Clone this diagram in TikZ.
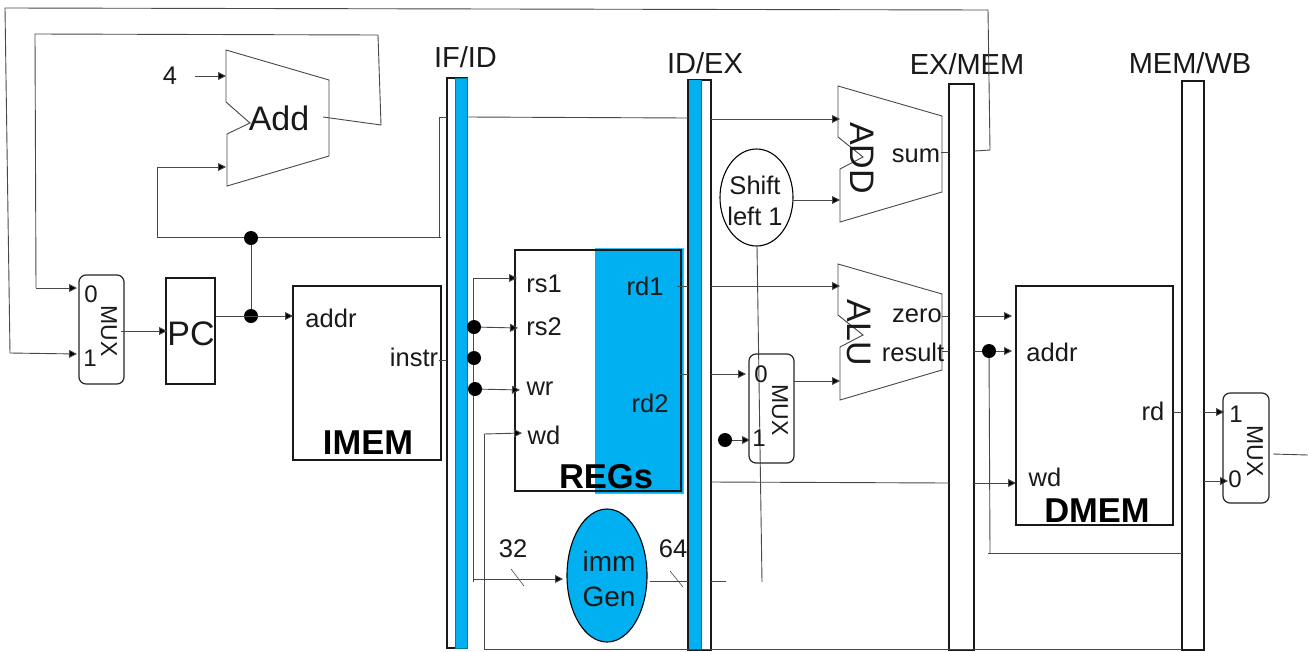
\documentclass[tikz,border=0pt]{standalone}
\usepackage{fontspec}
\setmainfont{Liberation Sans}
\usetikzlibrary{arrows.meta,shapes.geometric}
\definecolor{cpublue}{HTML}{00B0F0}
\definecolor{wirec}{HTML}{484848}
\newcommand{\fs}[1]{\fontsize{#1}{#1}\selectfont}
\tikzset{
  wire/.style={draw=wirec,line width=0.9pt},
  awire/.style={wire,-{Triangle[length=8pt,width=8pt,fill=black]}},
  boxn/.style={draw=black!90,line width=1.1pt,rectangle,inner sep=0pt,outer sep=0pt},
  muxn/.style={draw=black!85,line width=1.2pt,rectangle,rounded corners=7pt,inner sep=0pt,outer sep=0pt,minimum width=45pt,minimum height=109pt},
  pipe/.style={draw=black!90,line width=1.1pt,fill=white,rectangle,inner sep=0pt,outer sep=0pt},
  bluebar/.style={fill=cpublue,draw=cpublue!70!black,line width=0.6pt},
  dotn/.style={circle,fill=black,inner sep=0pt,minimum size=14pt},
  lab/.style={inner sep=0pt,font=\fs{25.5},text=black!90},
  pipelab/.style={inner sep=0pt,font=\fs{29},text=black!90},
  biglab/.style={inner sep=0pt,font=\fs{34.5}\bfseries,text=black},
  muxlab/.style={inner sep=0pt,font=\fs{23},rotate=-90,text=black!90},
  alulab/.style={inner sep=0pt,font=\fs{34},rotate=-90,text=black!90},
  trap/.style={draw=wirec,line width=0.9pt,line join=miter},
}
\begin{document}
\begin{tikzpicture}[x=1pt,y=-1pt]
\useasboundingbox (0,0) rectangle (1308,651);
\fill[white] (0,0) rectangle (1308,651);

% free-end and bend coordinates
\coordinate (t1) at (975,151); \coordinate (t2) at (990,150); \coordinate (t3) at (988,10);
\coordinate (t4) at (5,8); \coordinate (t5) at (10,353); \coordinate (t6) at (77,354);
\coordinate (l1) at (323,117); \coordinate (l2) at (381,125); \coordinate (l3) at (378,35);
\coordinate (l4) at (35,34); \coordinate (l5) at (36,288); \coordinate (l6) at (77,288);
\coordinate (four) at (195,76); \coordinate (addin1) at (226,76);
\coordinate (addin2) at (226,167); \coordinate (b1) at (157,167); \coordinate (b2) at (157,237);
\coordinate (b3) at (441,237); \coordinate (b4) at (439,237); \coordinate (b5) at (439,117);
\coordinate (b6) at (447,117); \coordinate (b7) at (467,117); \coordinate (b8) at (688,118);
\coordinate (b9) at (711,119); \coordinate (b10) at (840,119);

% pipeline bars
\node[pipe,minimum width=20pt,minimum height=570pt] (ifid) at (457,363) {};
\fill[cpublue] (455,78) rectangle (467,648);
\draw[cpublue!70!black,line width=0.6pt] (455,78) rectangle (467,648);
\node[pipe,minimum width=23pt,minimum height=570pt] (idex) at (699.5,365) {};
\fill[cpublue] (689,80) rectangle (701,650);
\draw[cpublue!70!black,line width=0.6pt] (701,80) -- (701,650);
\node[pipe,minimum width=25pt,minimum height=566pt] (exmem) at (961.5,367) {};
\node[pipe,minimum width=22pt,minimum height=569pt] (memwb) at (1193,365.5) {};

\node[pipelab] (ifidl) at (465.5,57) {IF/ID};
\node[pipelab] (idexl) at (705,63) {ID/EX};
\node[pipelab] (exmeml) at (967,64) {EX/MEM};
\node[pipelab] (memwbl) at (1190,63) {MEM/WB};

% fetch
\node[muxn] (mux1) at (101.5,329.5) {};
\node[muxlab] (mux1t) at (109,331) {MUX};
\node[lab,font=\fs{24}] (mux1a) at (91,294) {0};
\node[lab,font=\fs{24}] (mux1b) at (90,358) {1};
\node[boxn,minimum width=49pt,minimum height=106pt] (pc) at (190.5,331) {};
\node[inner sep=0pt,font=\fs{34},text=black!90] (pct) at (191,334) {PC};
\node[boxn,minimum width=148pt,minimum height=174pt] (imem) at (367,373) {};
\node[lab] (addrl) at (331,318) {addr};
\node[lab] (instrl) at (414,357) {instr};
\node[biglab] (imeml) at (368,443) {IMEM};

\draw[trap] (226,50) -- (329,80) -- (329,156) -- (227,186) -- (227,134) -- (250,123) -- (226,102) -- cycle;
\node[inner sep=0pt,font=\fs{34},text=black!90] (addt) at (279,118) {Add};
\node[lab] (fourl) at (170,76) {4};
\draw[awire] (four) -- (addin1);
\draw[wire] (l1) -- (l2) -- (l3) -- (l4) -- (l5);
\draw[awire] (l5) -- (l6);
\draw[wire] (t1) -- (t2) -- (t3) -- (t4) -- (t5);
\draw[awire] (t5) -- (t6);
\draw[wire] (b3) -- (b2) -- (b1);
\draw[awire] (b1) -- (addin2);
\draw[wire] (b4) -- (b5) -- (b6);

\node[dotn] (d1) at (251,238) {};
\node[dotn] (d2) at (251,316) {};
\draw[wire] (d1) -- (d2);
\coordinate (pcout) at (216,316); \coordinate (addrin) at (293,316);
\draw[awire] (pcout) -- (addrin);
\coordinate (muxout) at (121,331); \coordinate (pcin) at (167,331);
\draw[awire] (muxout) -- (pcin);
\coordinate (instro) at (439,360); \coordinate (instre) at (447,360);
\draw[wire] (instro) -- (instre);

% registers
\fill[cpublue] (595,248) rectangle (683,493);
\draw[cpublue!80!white,line width=0.8pt] (595,248) -- (683,248) -- (683,493) -- (595,493);
\node[boxn,minimum width=166pt,minimum height=241pt] (regs) at (598,370.5) {};
\node[lab] (rs1) at (544,284) {rs1};
\node[lab] (rs2) at (544,326.5) {rs2};
\node[lab] (wr) at (540,388.5) {wr};
\node[lab] (wd) at (544,435.5) {wd};
\node[lab] (rd1) at (645,286.5) {rd1};
\node[lab] (rd2) at (650,403.5) {rd2};
\node[biglab] (regsl) at (606,477) {REGs};

\coordinate (v1) at (473,278); \coordinate (v2) at (473,582);
\coordinate (rs1in) at (517,278);
\draw[wire] (v2) -- (v1);
\draw[awire] (v1) -- (rs1in);
\node[dotn] (d3) at (474,327) {};
\node[dotn] (d4) at (474,358) {};
\node[dotn] (d5) at (475,389) {};
\coordinate (rs2in) at (518,328); \coordinate (wrin) at (520,390);
\draw[awire] (d3) -- (rs2in);
\draw[awire] (d5) -- (wrin);

\coordinate (w1) at (1182,649); \coordinate (w2) at (484,649); \coordinate (w3) at (484,434); \coordinate (w4) at (522,433);
\draw[wire] (w1) -- (w2) -- (w3);
\draw[awire] (w3) -- (w4);

% imm gen
\node[ellipse,draw=black,line width=1.1pt,fill=cpublue,inner sep=0pt,outer sep=0pt,minimum width=80pt,minimum height=133pt] (imm) at (607,575.5) {};
\node[inner sep=0pt,font=\fs{28},text=black!90] (immt) at (609,561) {imm};
\node[inner sep=0pt,font=\fs{28},text=black!90] (gent) at (609,597) {Gen};
\coordinate (i1) at (474,579); \coordinate (i2) at (563,579);
\draw[awire] (i1) -- (i2);
\coordinate (s1a) at (511,569); \coordinate (s1b) at (524,586);
\draw[wire,line width=0.6pt] (s1a) -- (s1b);
\node[lab] (n32) at (513,548.5) {32};
\coordinate (i3) at (650,581); \coordinate (i4) at (688,581);
\draw[wire] (i3) -- (i4);
\coordinate (s2a) at (670,571); \coordinate (s2b) at (683,587);
\draw[wire,line width=0.6pt] (s2a) -- (s2b);
\node[lab] (n64) at (673,548.5) {64};
\coordinate (i5) at (711,581); \coordinate (i6) at (726,581);
\draw[wire] (i5) -- (i6);

% execute
\node[ellipse,draw=black,line width=1.1pt,inner sep=0pt,outer sep=0pt,minimum width=73pt,minimum height=97pt] (shift) at (756.5,197.5) {};
\node[lab] (shiftt) at (755,185) {Shift};
\node[lab] (leftt) at (755,216.5) {left 1};
\coordinate (sh1) at (757,246); \coordinate (sh2) at (762,582);
\draw[wire] (sh1) -- (sh2);
\coordinate (sh3) at (793,200); \coordinate (sh4) at (840,200);
\draw[awire] (sh3) -- (sh4);

\draw[trap] (838,86) -- (942,116) -- (942,192) -- (840,222) -- (840,169) -- (863,157) -- (838,137) -- cycle;
\node[alulab] (addl) at (862,158) {ADD};
\draw[wire] (b7) -- (b8);
\draw[awire] (b9) -- (b10);
\node[lab] (sum) at (916,155.5) {sum};
\coordinate (a1) at (941,152); \coordinate (a2) at (949,152);
\draw[wire] (a1) -- (a2);

\draw[trap] (838,264) -- (942,294) -- (942,370) -- (840,400) -- (840,347) -- (863,335) -- (838,315) -- cycle;
\node[alulab] (alul) at (859,333) {ALU};
\node[lab] (zero) at (917,315.5) {zero};
\node[lab] (result) at (913,352.5) {result};
\coordinate (rd1o) at (677,286); \coordinate (rd1e) at (688,286);
\draw[wire] (rd1o) -- (rd1e);
\coordinate (rd1b) at (711,286); \coordinate (rd1c) at (840,286);
\draw[awire] (rd1b) -- (rd1c);
\coordinate (rd2o) at (680,374); \coordinate (rd2e) at (688,374);
\draw[wire] (rd2o) -- (rd2e);
\coordinate (rd2b) at (711,374); \coordinate (rd2c) at (746,374);
\draw[awire] (rd2b) -- (rd2c);

\node[muxn] (mux2) at (771.5,408.5) {};
\node[muxlab] (mux2t) at (780,410) {MUX};
\node[lab,font=\fs{24}] (mux2a) at (761,374) {0};
\node[lab,font=\fs{24}] (mux2b) at (759,438) {1};
\node[dotn] (d6) at (725,440) {};
\coordinate (m2in) at (750,440);
\draw[awire] (d6) -- (m2in);
\coordinate (m2o) at (794,381); \coordinate (m2e) at (840,381);
\draw[awire] (m2o) -- (m2e);

\coordinate (z1) at (942,316); \coordinate (z2) at (949,316);
\draw[wire] (z1) -- (z2);
\coordinate (z3) at (974,316); \coordinate (z4) at (1012,316);
\draw[awire] (z3) -- (z4);
\coordinate (r1) at (942,351); \coordinate (r2) at (949,351);
\draw[wire] (r1) -- (r2);
\coordinate (r3) at (974,351); \coordinate (r4) at (1012,351);
\draw[awire] (r3) -- (r4);
\coordinate (f1) at (711,482); \coordinate (f2) at (949,483);
\draw[wire] (f1) -- (f2);
\coordinate (f3) at (974,483); \coordinate (f4) at (1016,483);
\draw[awire] (f3) -- (f4);

% memory
\node[boxn,minimum width=157pt,minimum height=239pt] (dmem) at (1094.5,405.5) {};
\node[lab] (addr2) at (1052,352.5) {addr};
\node[lab] (wd2) at (1045,477) {wd};
\node[lab] (rd3) at (1153,411) {rd};
\node[biglab] (dmeml) at (1097,511) {DMEM};
\node[dotn] (d7) at (989,351) {};
\coordinate (g1) at (990,553); \coordinate (g2) at (988,553); \coordinate (g3) at (1182,553);
\draw[wire] (d7) -- (g1);
\draw[wire] (g2) -- (g3);
\coordinate (rdo) at (1173,412); \coordinate (rde) at (1182,412);
\draw[wire] (rdo) -- (rde);
\coordinate (rdb) at (1204,412); \coordinate (rdc) at (1224,412);
\draw[awire] (rdb) -- (rdc);
\coordinate (o1) at (1204,481); \coordinate (o2) at (1228,481);
\draw[awire] (o1) -- (o2);

\node[muxn,minimum width=46pt,minimum height=110pt] (mux3) at (1246,448) {};
\node[muxlab] (mux3t) at (1255,451) {MUX};
\node[lab,font=\fs{24}] (mux3a) at (1236,414) {1};
\node[lab,font=\fs{24}] (mux3b) at (1235,479) {0};
\coordinate (m3o) at (1273,454); \coordinate (m3e) at (1308,455);
\draw[wire] (m3o) -- (m3e);
\end{tikzpicture}
\end{document}
